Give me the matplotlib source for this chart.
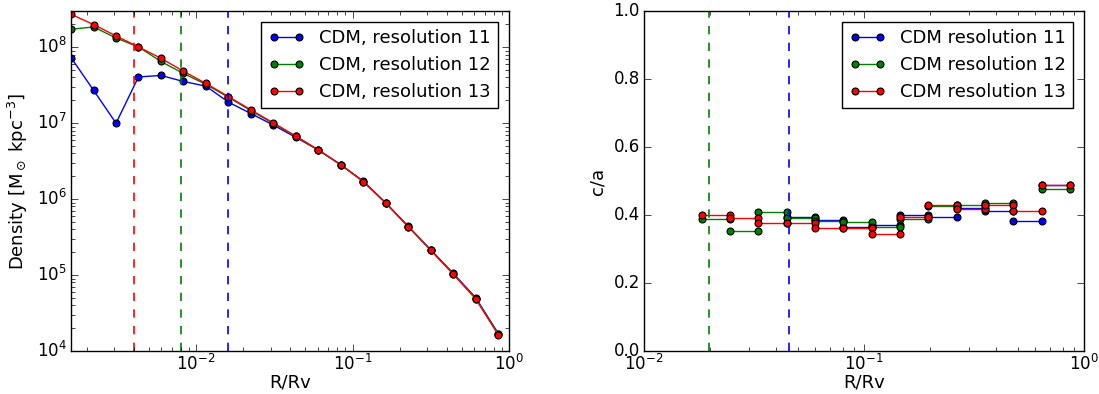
import numpy as np
import matplotlib
matplotlib.use("Agg")
import matplotlib.pyplot as plt

plt.style.use("classic")
plt.rcParams.update({
    "font.family": ["DejaVu Sans"],
    "mathtext.fontset": "dejavusans",
    "figure.facecolor": "white",
    "savefig.facecolor": "white",
    "legend.numpoints": 2,
})

# ---- density profile (left) ----
r_profile = [0.001585, 0.002208, 0.003076, 0.004279, 0.005957, 0.008298, 0.01156,
             0.01610, 0.02239, 0.03119, 0.04345, 0.06053, 0.08433, 0.1173,
             0.1633, 0.2275, 0.3170, 0.4416, 0.6141, 0.8551]
rho_res11 = [7.31e7, 2.72e7, 1.00e7, 4.06e7, 4.25e7, 3.54e7, 3.07e7, 1.89e7, 1.34e7,
             9.42e6, 6.49e6, 4.42e6, 2.82e6, 1.72e6, 8.91e5, 4.37e5, 2.14e5, 1.05e5,
             5.01e4, 1.70e4]
rho_res12 = [1.726e8, 1.849e8, 1.324e8, 1.009e8, 6.49e7, 4.51e7, 3.24e7, 2.19e7, 1.46e7,
             9.89e6, 6.68e6, 4.42e6, 2.82e6, 1.70e6, 8.81e5, 4.32e5, 2.11e5, 1.03e5,
             4.90e4, 1.66e4]
rho_res13 = [2.716e8, 1.991e8, 1.409e8, 1.009e8, 7.16e7, 4.83e7, 3.33e7, 2.244e7, 1.496e7,
             1.009e7, 6.75e6, 4.457e6, 2.825e6, 1.702e6, 8.85e5, 4.325e5, 2.113e5,
             1.021e5, 4.83e4, 1.626e4]
conv_radius_left = {"res11": 0.016, "res12": 0.008, "res13": 0.004}

# ---- shape c/a per radial bin (right) ----
bin_edges = [0.01828, 0.02460, 0.03311, 0.04449, 0.05984, 0.08054, 0.1084,
             0.1459, 0.1959, 0.2636, 0.3548, 0.4775, 0.6427, 0.8630]
ca_res11 = [np.nan, np.nan, np.nan, 0.393, 0.386, 0.365, 0.371, 0.400, 0.395,
            0.422, 0.412, 0.383, 0.488]
ca_res12 = [0.388, 0.353, 0.410, 0.390, 0.381, 0.380, 0.366, 0.388, 0.426,
            0.430, 0.436, np.nan, 0.476]
ca_res13 = [0.400, 0.390, 0.376, 0.376, 0.361, 0.363, 0.344, 0.393, 0.429,
            0.419, 0.429, 0.411, 0.488]
conv_radius_right = {"res11": 0.0456, "res12": 0.0197}

colors = {"res11": "b", "res12": "g", "res13": "r"}

fig = plt.figure(figsize=(10.99, 3.94), dpi=100)
ax1 = fig.add_axes([0.0646, 0.1091, 0.3985, 0.863])
ax2 = fig.add_axes([0.5860, 0.1091, 0.4004, 0.863])

mk = dict(marker="o", markersize=5, markeredgecolor="k", markeredgewidth=0.8, lw=1)

ax1.plot(r_profile, rho_res11, color=colors["res11"], label="CDM, resolution 11", **mk)
ax1.plot(r_profile, rho_res12, color=colors["res12"], label="CDM, resolution 12", **mk)
ax1.plot(r_profile, rho_res13, color=colors["res13"], label="CDM, resolution 13", **mk)
for key, xv in conv_radius_left.items():
    ax1.axvline(xv, color=colors[key], ls="--", lw=1.2)
ax1.set_xscale("log")
ax1.set_yscale("log")
ax1.set_xlim(r_profile[0], 1.0)
ax1.set_ylim(1e4, 3e8)
ax1.set_xlabel("R/Rv", fontsize=13, labelpad=0)
ax1.set_ylabel(r"Density [M$_\odot$ kpc$^{-3}$]", fontsize=13)
ax1.legend(loc="upper right", fontsize=13, borderaxespad=0.6)


def step_segments(edges, values):
    xs, ys = [], []
    for i, v in enumerate(values):
        if np.isnan(v):
            continue
        xs += [edges[i], edges[i + 1], np.nan]
        ys += [v, v, np.nan]
    return xs, ys


for key, vals, lab in [("res11", ca_res11, "CDM resolution 11"),
                       ("res12", ca_res12, "CDM resolution 12"),
                       ("res13", ca_res13, "CDM resolution 13")]:
    xs, ys = step_segments(bin_edges, vals)
    ax2.plot(xs, ys, color=colors[key], label=lab, **mk)
for key, xv in conv_radius_right.items():
    ax2.axvline(xv, color=colors[key], ls="--", lw=1.2)
ax2.set_xscale("log")
ax2.set_xlim(1e-2, 1.0)
ax2.set_ylim(0.0, 1.0)
ax2.set_yticks([0.0, 0.2, 0.4, 0.6, 0.8, 1.0])
ax2.set_xlabel("R/Rv", fontsize=13, labelpad=0)
ax2.set_ylabel("c/a", fontsize=13)
ax2.legend(loc="upper right", fontsize=13, borderaxespad=0.6)

for ax in (ax1, ax2):
    ax.tick_params(which="both", direction="in", top=True, right=True,
                   labelsize=12)
    ax.tick_params(axis="x", which="both", pad=2)
    ax.tick_params(axis="y", which="both", pad=3)
    ax.tick_params(which="major", length=5)
    ax.tick_params(which="minor", length=3)

fig.savefig("out.png", dpi=100)
